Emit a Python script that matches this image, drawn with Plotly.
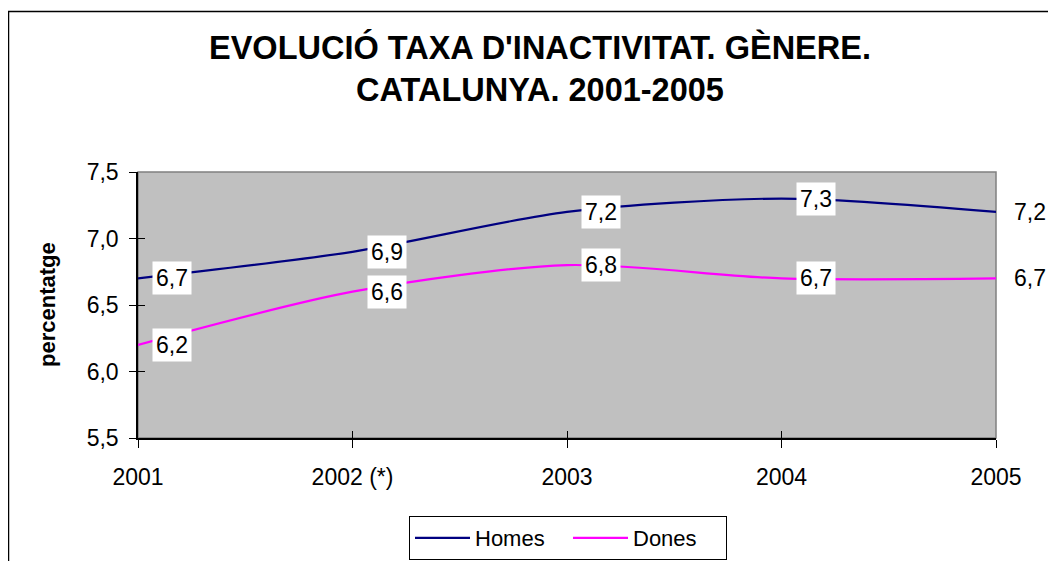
import plotly.graph_objects as go

years = ["2001", "2002 (*)", "2003", "2004", "2005"]
homes = [6.7, 6.9, 7.2, 7.3, 7.2]
dones = [6.2, 6.6, 6.8, 6.7, 6.7]
homes_labels = ["6,7", "6,9", "7,2", "7,3", "7,2"]
dones_labels = ["6,2", "6,6", "6,8", "6,7", "6,7"]
y_ticks = [5.5, 6.0, 6.5, 7.0, 7.5]
y_tick_text = ["5,5", "6,0", "6,5", "7,0", "7,5"]

FONT = "Liberation Sans, Arial, sans-serif"
NAVY = "#000080"
MAGENTA = "#FF00FF"
FS = 23

# page offset of the plotly div (body margin)
OFF = 8
PL, PR, PT, PB = 138, 996, 172, 438   # plot area in page pixels
PW, PH = PR - PL, PB - PT


def px(xp):
    return (xp - PL) / PW


def py(yp):
    return (PB - yp) / PH


fig = go.Figure()
fig.add_trace(go.Scatter(x=years, y=homes, name="Homes", mode="lines",
                         line=dict(color=NAVY, width=2.2, shape="spline", smoothing=0.8),
                         hoverinfo="skip"))
fig.add_trace(go.Scatter(x=years, y=dones, name="Dones", mode="lines",
                         line=dict(color=MAGENTA, width=2.2, shape="spline", smoothing=0.8),
                         hoverinfo="skip"))
# empty trace to activate overlay axes (inside tick marks)
fig.add_trace(go.Scatter(x=[None], y=[None], xaxis="x2", yaxis="y2",
                         showlegend=False, hoverinfo="skip"))

annotations = []
for ys, ls in [(homes, homes_labels), (dones, dones_labels)]:
    for i, (yv, lv) in enumerate(zip(ys, ls)):
        annotations.append(dict(x=i, y=yv, xref="x", yref="y", text=lv,
                                showarrow=False, xanchor="left", yanchor="middle",
                                xshift=14, bgcolor="white", borderpad=3,
                                font=dict(family=FONT, size=FS, color="black")))

annotations.append(dict(x=px(540), y=py(69), xref="paper", yref="paper",
                        text="<b>EVOLUCIÓ TAXA D'INACTIVITAT. GÈNERE.<br>CATALUNYA. 2001-2005</b>",
                        showarrow=False, xanchor="center", yanchor="middle",
                        font=dict(family=FONT, size=32.5, color="black")))

annotations.append(dict(x=px(47), y=py(305), xref="paper", yref="paper",
                        text="<b>percentatge</b>", textangle=-90, showarrow=False,
                        xanchor="center", yanchor="middle",
                        font=dict(family=FONT, size=22, color="black")))

shapes = [
    # plot area border (gray)
    dict(type="rect", xref="paper", yref="paper", x0=0, x1=1, y0=0, y1=1,
         line=dict(color="#808080", width=1.5), layer="below"),
    # outer chart border
    dict(type="rect", xref="paper", yref="paper",
         x0=px(8.5), x1=px(1070), y0=py(580), y1=py(11.5),
         line=dict(color="black", width=1.5)),
]

W, H = 1056 - OFF, 561 - OFF
fig.update_layout(
    width=W, height=H,
    margin=dict(l=PL - OFF, r=W - (PR - OFF), t=PT - OFF, b=H - (PB - OFF),
                autoexpand=False),
    paper_bgcolor="white",
    plot_bgcolor="#C0C0C0",
    font=dict(family=FONT, size=FS, color="black"),
    showlegend=True,
    legend=dict(orientation="h", x=px(568), xanchor="center",
                y=py(516), yanchor="top",
                bordercolor="black", borderwidth=1, bgcolor="white",
                font=dict(family=FONT, size=22, color="black"),
                itemwidth=55, entrywidth=88, tracegroupgap=0),
    xaxis=dict(type="category", range=[0, 4], showgrid=False, zeroline=False,
               showline=True, linecolor="black", linewidth=1.5,
               ticks="outside", ticklen=8, tickcolor="black", tickwidth=1,
               ticklabelstandoff=10, automargin=False,
               tickfont=dict(family=FONT, size=FS, color="black")),
    yaxis=dict(range=[5.5, 7.5], tickvals=y_ticks, ticktext=y_tick_text,
               showgrid=False, zeroline=False,
               showline=True, linecolor="black", linewidth=1.5,
               ticks="outside", ticklen=7, tickcolor="black", tickwidth=1,
               ticklabelstandoff=6, automargin=False,
               tickfont=dict(family=FONT, size=FS, color="black")),
    xaxis2=dict(overlaying="x", range=[0, 4], tickvals=[0, 1, 2, 3, 4],
                showticklabels=False, ticks="inside", ticklen=7,
                tickcolor="black", tickwidth=1, showgrid=False, zeroline=False,
                showline=False),
    yaxis2=dict(overlaying="y", range=[5.5, 7.5], tickvals=y_ticks,
                showticklabels=False, ticks="inside", ticklen=7,
                tickcolor="black", tickwidth=1, showgrid=False, zeroline=False,
                showline=False),
    annotations=annotations,
    shapes=shapes,
)

fig.write_html("out.html")
